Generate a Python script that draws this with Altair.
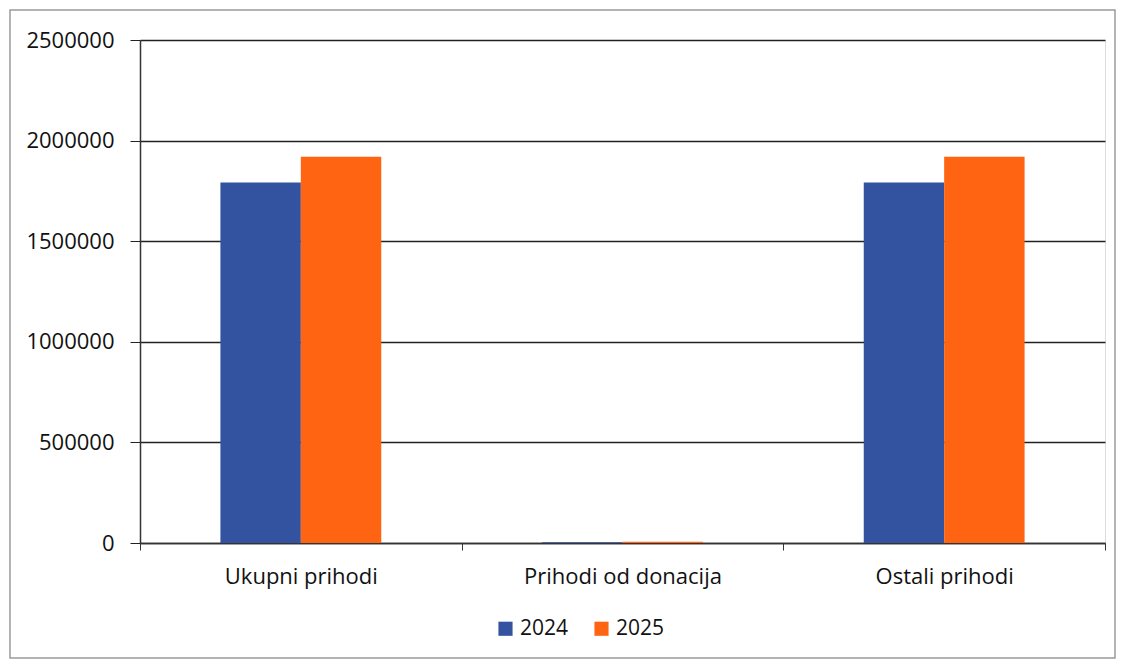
import altair as alt
import pandas as pd

categories = ["Ukupni prihodi", "Prihodi od donacija", "Ostali prihodi"]
years = ["2024", "2025"]
values_2024 = [1792000, 4000, 1792000]
values_2025 = [1920000, 6000, 1920000]
y_ticks = [0, 500000, 1000000, 1500000, 2000000, 2500000]
colors = ["#3352a0", "#ff6412"]

rows = []
for c, a, b in zip(categories, values_2024, values_2025):
    rows.append({"cat": c, "year": "2024", "value": a})
    rows.append({"cat": c, "year": "2025", "value": b})
df = pd.DataFrame(rows)

FONT = "Open Sans"

frame = alt.Chart(pd.DataFrame({"a": [0]})).mark_rect(
    fill=None, stroke="#9a9a9a", strokeWidth=1.5
).encode(
    x=alt.value(-130), x2=alt.value(975), y=alt.value(-30), y2=alt.value(618)
)

bars = alt.Chart(df).mark_bar().encode(
    x=alt.X("cat:N", sort=categories, title=None,
            scale=alt.Scale(paddingInner=0, paddingOuter=0),
            axis=alt.Axis(labelAngle=0, labelFont=FONT, labelFontSize=22,
                          labelColor="#111", tickBand="extent", tickSize=7,
                          tickColor="#333", domainColor="#333", domainWidth=1.5,
                          labelPadding=16, labelLimit=0, grid=False)),
    xOffset=alt.XOffset("year:N", sort=years,
                        scale=alt.Scale(paddingInner=0, paddingOuter=1)),
    y=alt.Y("value:Q", title=None,
            scale=alt.Scale(domain=[0, 2500000], nice=False),
            axis=alt.Axis(values=y_ticks, format="d", labelFont=FONT,
                          labelFontSize=22, labelColor="#111", tickSize=10,
                          tickColor="#222", domainColor="#333", domainWidth=1.5,
                          gridColor="#222", gridWidth=1.3, labelPadding=16)),
    color=alt.Color("year:N", sort=years,
                    scale=alt.Scale(domain=years, range=colors),
                    legend=alt.Legend(title=None, orient="none", direction="horizontal",
                                      legendX=355, legendY=578, symbolType="square",
                                      symbolSize=200, labelFont=FONT, labelFontSize=21,
                                      labelColor="#111", columnPadding=22,
                                      symbolStrokeWidth=0)),
)

chart = alt.layer(frame, bars).properties(
    width=965, height=503,
    autosize=alt.AutoSizeParams(type="none"),
    padding={"left": 132, "top": 32, "right": 11, "bottom": 120},
).configure_view(stroke=None).configure(background="white")

chart.save("out.html", embed_options={"renderer": "svg", "actions": False})
